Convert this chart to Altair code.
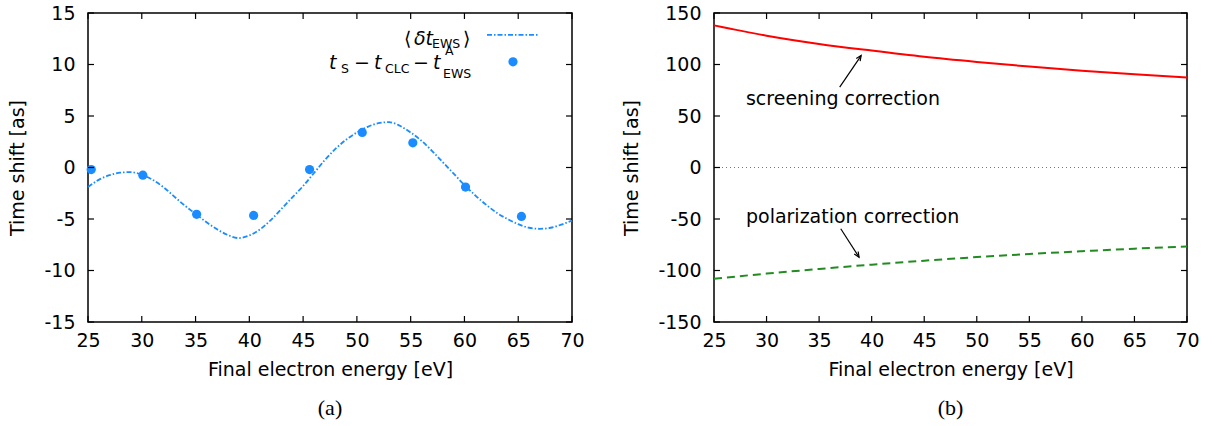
import altair as alt
import pandas as pd

# ---------------- data ----------------
# panel (a): averaged EWS delay curve
curve_E = [25, 26, 27, 28, 29, 30, 31, 32, 33, 34, 35, 36, 37, 38, 39, 40, 41, 42, 43, 44,
           45, 46, 47, 48, 49, 50, 51, 52, 53, 54, 55, 56, 57, 58, 59, 60, 61, 62, 63, 64,
           65, 66, 67, 68, 69, 70]
curve_dt = [-1.9, -1.2, -0.75, -0.5, -0.45, -0.7, -1.2, -1.9, -2.8, -3.7, -4.5, -5.3, -6.0,
            -6.55, -6.85, -6.6, -6.0, -5.1, -4.0, -2.9, -1.8, -0.55, 0.7, 1.8, 2.7, 3.4,
            3.95, 4.3, 4.4, 4.05, 3.4, 2.6, 1.6, 0.5, -0.6, -1.7, -2.7, -3.6, -4.4, -5.0,
            -5.5, -5.85, -5.95, -5.85, -5.55, -5.15]
# panel (a): t_S - t_CLC - t^A_EWS points
pts_E = [25.3, 30.1, 35.1, 40.4, 45.6, 50.5, 55.2, 60.1, 65.3]
pts_dt = [-0.2, -0.75, -4.55, -4.65, -0.2, 3.4, 2.4, -1.9, -4.75]

# panel (b): corrections
corr_E = [25, 30, 35, 40, 45, 50, 55, 60, 65, 70]
screening = [138, 128, 120, 113.5, 107.5, 102.5, 98, 94, 90.5, 87.3]
polarization = [-108, -103, -98.5, -94.3, -90.5, -87, -84, -81.3, -78.8, -76.7]

x_ticks = [25, 30, 35, 40, 45, 50, 55, 60, 65, 70]
ya_ticks = [-15, -10, -5, 0, 5, 10, 15]
yb_ticks = [-150, -100, -50, 0, 50, 100, 150]

# annotation arrows (data coordinates): start -> tip
arrows = pd.DataFrame({
    "x0": [36.96, 37.06], "y0": [78.0, -59.5],
    "x1": [39.0, 38.8], "y1": [108.7, -87.1],
    "ang": [34.4, 147],
})

# ---------------- styling ----------------
FONT = "DejaVu Sans"
FS = 19
SUB = 12.5
BLUE = "#1a8cff"
W_A, W_B, H = 484, 473, 309

xs = alt.Scale(domain=[25, 70], nice=False, zero=False)
ysa = alt.Scale(domain=[-15, 15], nice=False, zero=False)
ysb = alt.Scale(domain=[-150, 150], nice=False, zero=False)

XAX = alt.Axis(values=x_ticks, title="Final electron energy [eV]", labelExpr="'' + datum.value",
               labelFlush=False)
YAX_A = alt.Axis(values=ya_ticks, title="Time shift [as]", labelExpr="'' + datum.value",
                 labelFlush=False)
YAX_B = alt.Axis(values=yb_ticks, title="Time shift [as]", labelExpr="'' + datum.value",
                 labelFlush=False)

one = pd.DataFrame({"a": [0]})


def ticks_layer(yticks, yscale, yax, width):
    dx = pd.DataFrame({"v": x_ticks})
    dy = pd.DataFrame({"v": yticks})
    L = 6
    xb = alt.Chart(dx).mark_rule(color="black", strokeWidth=1.2).encode(
        x=alt.X("v:Q", scale=xs, axis=XAX), y=alt.value(H), y2=alt.value(H - L))
    xt = alt.Chart(dx).mark_rule(color="black", strokeWidth=1.2).encode(
        x=alt.X("v:Q", scale=xs, axis=XAX), y=alt.value(0), y2=alt.value(L))
    yl = alt.Chart(dy).mark_rule(color="black", strokeWidth=1.2).encode(
        y=alt.Y("v:Q", scale=yscale, axis=yax), x=alt.value(0), x2=alt.value(L))
    yr = alt.Chart(dy).mark_rule(color="black", strokeWidth=1.2).encode(
        y=alt.Y("v:Q", scale=yscale, axis=yax), x=alt.value(width), x2=alt.value(width - L))
    return [xb, xt, yl, yr]


def txt(s, x, y, size=FS, italic=False, align="left"):
    kw = dict(font=FONT, fontSize=size, color="black", align=align, baseline="alphabetic")
    if italic:
        kw["fontStyle"] = "italic"
    return alt.Chart(one).mark_text(**kw).encode(
        x=alt.value(x), y=alt.value(y), text=alt.value(s))


# ---------------- panel (a) ----------------
dfc = pd.DataFrame({"E": curve_E, "dt": curve_dt})
dfp = pd.DataFrame({"E": pts_E, "dt": pts_dt})

curve = alt.Chart(dfc).mark_line(color=BLUE, strokeWidth=1.8, strokeDash=[5, 2, 1.5, 2],
                                 interpolate="monotone").encode(
    x=alt.X("E:Q", scale=xs, axis=XAX),
    y=alt.Y("dt:Q", scale=ysa, axis=YAX_A))
points = alt.Chart(dfp).mark_circle(color=BLUE, size=85, opacity=1).encode(
    x=alt.X("E:Q", scale=xs, axis=XAX), y=alt.Y("dt:Q", scale=ysa, axis=YAX_A))

R1, R2 = 31.5, 55.5
leg = [
    txt("⟨", 316, R1),
    txt("δt", 326, R1, italic=True),
    txt("EWS", 344, R1 + 3, size=SUB),
    txt("⟩", 375, R1),
    alt.Chart(one).mark_rule(color=BLUE, strokeWidth=1.8, strokeDash=[5, 2, 1.5, 2]).encode(
        x=alt.value(399), x2=alt.value(451), y=alt.value(21.8)),
    txt("t", 241, R2, italic=True),
    txt("S", 253, R2 + 4, size=SUB),
    txt("−", 266, R2),
    txt("t", 286, R2, italic=True),
    txt("CLC", 297, R2 + 4, size=SUB),
    txt("−", 325, R2),
    txt("t", 345, R2, italic=True),
    txt("A", 357, R2 - 14, size=SUB),
    txt("EWS", 355, R2 + 9, size=SUB),
    alt.Chart(one).mark_circle(color=BLUE, size=85, opacity=1).encode(
        x=alt.value(425), y=alt.value(48.8)),
]

left = alt.layer(curve, points, *ticks_layer(ya_ticks, ysa, YAX_A, W_A), *leg).properties(
    width=W_A, height=H,
    title=alt.TitleParams("(a)", orient="bottom", font="Liberation Serif", fontSize=22,
                          fontWeight="normal", color="black", anchor="middle", offset=19))

# ---------------- panel (b) ----------------
dfb = pd.DataFrame({"E": corr_E, "scr": screening, "pol": polarization})
red = alt.Chart(dfb).mark_line(color="#ff0000", strokeWidth=2, interpolate="monotone").encode(
    x=alt.X("E:Q", scale=xs, axis=XAX),
    y=alt.Y("scr:Q", scale=ysb, axis=YAX_B))
green = alt.Chart(dfb).mark_line(color="#228b22", strokeWidth=2, strokeDash=[8, 5],
                                 interpolate="monotone").encode(
    x=alt.X("E:Q", scale=xs, axis=XAX), y=alt.Y("pol:Q", scale=ysb, axis=YAX_B))
zero = alt.Chart(pd.DataFrame({"x0": [25], "x1": [70], "y": [0]})).mark_rule(
    color="#777777", strokeWidth=1, strokeDash=[1, 3]).encode(
    x=alt.X("x0:Q", scale=xs, axis=XAX), x2="x1:Q", y=alt.Y("y:Q", scale=ysb, axis=YAX_B))
shafts = alt.Chart(arrows).mark_rule(color="black", strokeWidth=1.2).encode(
    x=alt.X("x0:Q", scale=xs, axis=XAX), x2="x1:Q",
    y=alt.Y("y0:Q", scale=ysb, axis=YAX_B), y2="y1:Q")
heads = alt.Chart(arrows).mark_point(
    shape="M -0.45 1 L 0 0 L 0.45 1", filled=False, color="black", strokeWidth=1.2,
    size=110, opacity=1).encode(
    x=alt.X("x1:Q", scale=xs, axis=XAX), y=alt.Y("y1:Q", scale=ysb, axis=YAX_B),
    angle=alt.Angle("ang:Q", scale=None))
labels = alt.Chart(pd.DataFrame({"x": [28.04, 28.04], "y": [60.9, -53.7],
                                 "t": ["screening correction", "polarization correction"]})).mark_text(
    font=FONT, fontSize=FS, color="black", align="left", baseline="alphabetic").encode(
    x=alt.X("x:Q", scale=xs, axis=XAX), y=alt.Y("y:Q", scale=ysb, axis=YAX_B), text="t:N")

right = alt.layer(zero, red, green, shafts, heads, labels,
                  *ticks_layer(yb_ticks, ysb, YAX_B, W_B)).properties(
    width=W_B, height=H,
    title=alt.TitleParams("(b)", orient="bottom", font="Liberation Serif", fontSize=22,
                          fontWeight="normal", color="black", anchor="middle", offset=19))

chart = alt.hconcat(left, right, spacing=37).properties(
    padding={"left": 8, "top": 3, "right": 5, "bottom": 5}
).configure_view(stroke="black", strokeWidth=1.5).configure_axis(
    domain=False, ticks=False, tickSize=0, grid=False,
    labelFont=FONT, labelFontSize=FS, labelColor="black",
    titleFont=FONT, titleFontSize=FS, titleFontWeight="normal", titleColor="black",
).configure_axisX(labelPadding=9, titlePadding=10).configure_axisY(
    labelPadding=13, titlePadding=16)

chart.save("out.html", embed_options={"renderer": "svg", "actions": False})
